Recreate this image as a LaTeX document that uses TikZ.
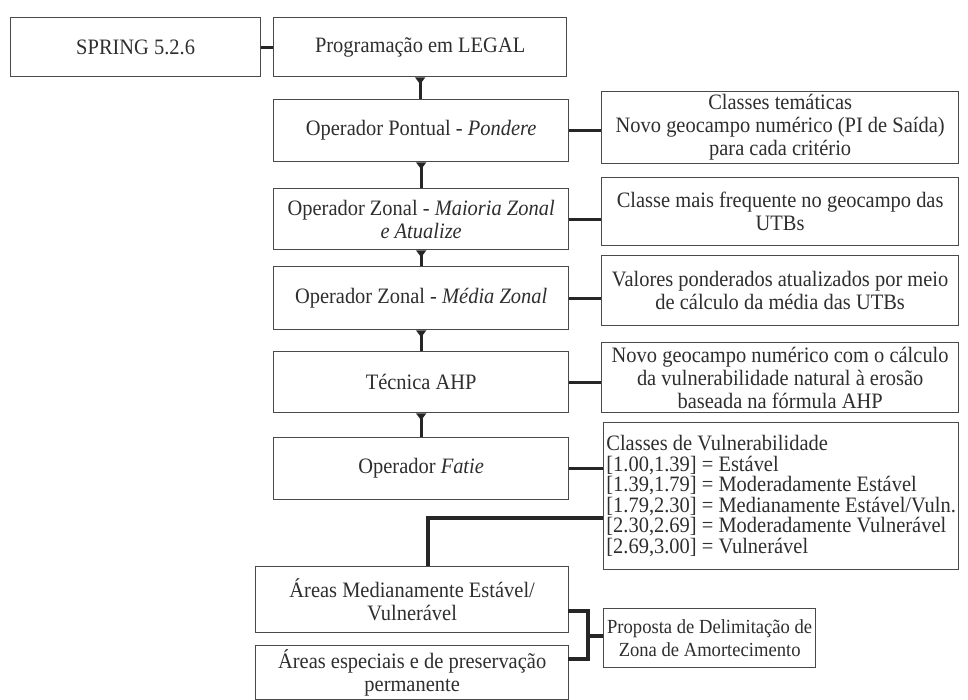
\documentclass[tikz,border=0pt]{standalone}
\usepackage{fontspec}
\setmainfont{Liberation Serif}[FakeStretch=0.93]
\usetikzlibrary{arrows.meta}
\definecolor{boxline}{HTML}{4A4A4A}
\definecolor{txt}{HTML}{2E2E2E}
\definecolor{wire}{HTML}{262626}
\tikzset{
  box/.style={draw=boxline, line width=1.3pt, rectangle, inner sep=3pt,
    text=txt, font=\fontsize{22}{23}\selectfont, align=center, anchor=north west},
  wire/.style={draw=wire, line width=3.2pt},
  flow/.style={wire, {Triangle[reversed,width=10pt,length=7pt]}-},
}
\newcommand{\mkbox}[6]{% name, x1, y1, x2, y2, text
  \node[box, minimum width=#4-#2, minimum height=#5-#3] (#1) at (#2,#3) {#6};}
\begin{document}
\begin{tikzpicture}[x=1pt,y=-1pt]
\useasboundingbox (0,0) rectangle (968,700);
% main column
\mkbox{spring}{10}{17}{260}{76}{SPRING 5.2.6}
\mkbox{legal}{273}{17}{566}{76}{Programação em LEGAL}
\mkbox{pond}{273}{99}{568}{161}{Operador Pontual - \textit{Pondere}}
\mkbox{maior}{273}{188}{568}{249}{Operador Zonal - \textit{Maioria Zonal}\\\textit{e Atualize}}
\mkbox{media}{273}{266}{568}{329}{Operador Zonal - \textit{Média Zonal}}
\mkbox{ahp}{273}{351}{568}{412}{Técnica AHP}
\mkbox{fatie}{273}{437}{568}{499}{Operador \textit{Fatie}}
% outputs on the right
\mkbox{r1}{601}{91}{958}{162}{Classes temáticas\\Novo geocampo numérico (PI de Saída)\\para cada critério}
\mkbox{r2}{601}{177}{958}{245}{Classe mais frequente no geocampo das\\UTBs}
\mkbox{r3}{601}{255}{958}{325}{Valores ponderados atualizados por meio\\de cálculo da média das UTBs}
\mkbox{r4}{601}{342}{958}{412}{Novo geocampo numérico com o cálculo\\da vulnerabilidade natural à erosão\\baseada na fórmula AHP}
\node[box, align=left, minimum width=355, minimum height=147, inner sep=2pt,
  font=\fontsize{22}{20.6}\selectfont] (r5) at (603,422)
  {Classes de Vulnerabilidade\\{}[1.00,1.39] = Estável\\{}[1.39,1.79] = Moderadamente Estável\\{}[1.79,2.30] = Medianamente Estável/Vuln.\\{}[2.30,2.69] = Moderadamente Vulnerável\\{}[2.69,3.00] = Vulnerável};
% areas and final proposal
\mkbox{a1}{255}{566}{568}{632}{Áreas Medianamente Estável/\\Vulnerável}
\mkbox{a2}{255}{645}{568}{699}{Áreas especiais e de preservação\\permanente}
\node[box, minimum width=212, minimum height=59, inner sep=2pt,
  font=\fontsize{20}{23}\selectfont] (prop) at (603,608)
  {Proposta de Delimitação de\\Zona de Amortecimento};
% connectors
\draw[wire] (spring.east) -- (legal.west);
\foreach \a/\b in {legal/pond, pond/maior, maior/media, media/ahp, ahp/fatie}
  \draw[flow] (\a.south) -- (\a.south |- \b.north);
\foreach \a/\b in {pond/r1, maior/r2, media/r3, ahp/r4, fatie/r5}
  \draw[wire] (\a.east) -- (\a.east -| \b.west);
\coordinate (j) at (603,518);
\coordinate (k) at (428,566);
\draw[wire] (j) -| (k);
\coordinate (t1) at (568,611);
\coordinate (t2) at (568,659);
\coordinate (bm) at (588,636);
\draw[wire] (t1) -| (bm) |- (t2);
\draw[wire] (bm) -- (bm -| prop.west);
\end{tikzpicture}
\end{document}
